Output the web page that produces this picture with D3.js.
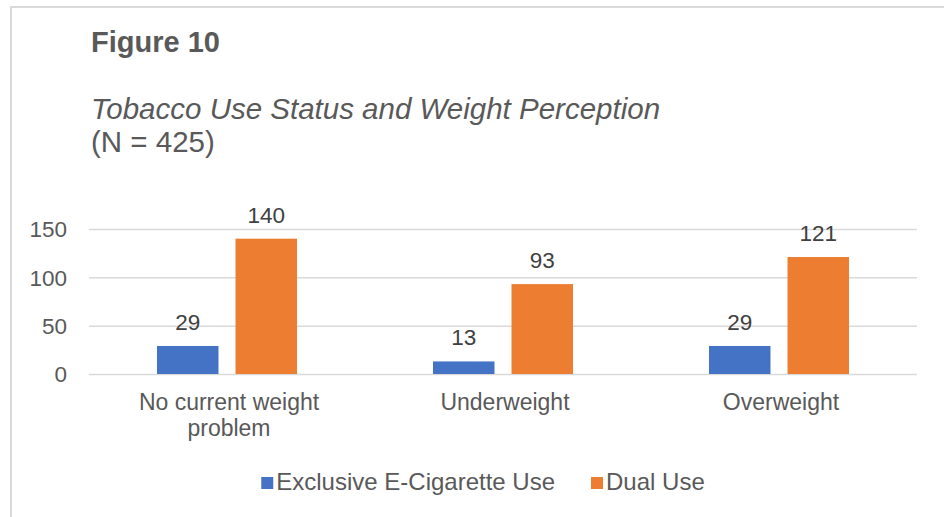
<!DOCTYPE html>
<html>
<head>
<meta charset="utf-8">
<script src="https://cdn.jsdelivr.net/npm/d3@7"></script>
<style>
  html, body { margin: 0; padding: 0; background: #ffffff; }
  svg { display: block; font-family: Arial, "Liberation Sans", sans-serif; }
</style>
</head>
<body>
<svg id="chart" width="944" height="517"></svg>
<script>
// Chart data
const categories = ["No current weight problem", "Underweight", "Overweight"];
const seriesNames = ["Exclusive E-Cigarette Use", "Dual Use"];
const exclusiveUse = [29, 13, 29];
const dualUse = [140, 93, 121];
const yTicks = [0, 50, 100, 150];
const seriesColors = ["#4472C4", "#ED7D31"];

const titleText = "Figure 10";
const subtitleText = "Tobacco Use Status and Weight Perception";
const noteText = "(N = 425)";

const seriesValues = [exclusiveUse, dualUse];
const rows = categories.map((c, i) => ({
  category: c,
  values: seriesNames.map((s, j) => ({ series: s, value: seriesValues[j][i], color: seriesColors[j] }))
}));

const svg = d3.select("#chart");
const W = 944, H = 517;

// Outer frame of the chart area
svg.append("rect")
  .attr("x", 11).attr("y", 7)
  .attr("width", W + 20).attr("height", H + 20)
  .attr("fill", "#ffffff")
  .attr("stroke", "#D9D9D9").attr("stroke-width", 2);

// Titles
svg.append("text")
  .attr("x", 91).attr("y", 52)
  .attr("font-size", 29).attr("font-weight", "bold")
  .attr("fill", "#595959")
  .text(titleText);

svg.append("text")
  .attr("x", 91).attr("y", 119)
  .attr("font-size", 29.5).attr("font-style", "italic")
  .attr("fill", "#595959")
  .text(subtitleText);

svg.append("text")
  .attr("x", 91).attr("y", 152)
  .attr("font-size", 29.5)
  .attr("fill", "#595959")
  .text(noteText);

// Scales
const plot = { left: 89, right: 917, top: 229, bottom: 374 };

const x0 = d3.scaleBand()
  .domain(categories)
  .range([plot.left, plot.right])
  .padding(0);

const groupPad = 68;
const x1 = d3.scaleBand()
  .domain(seriesNames)
  .range([groupPad, x0.bandwidth() - groupPad])
  .paddingInner(0.217)
  .paddingOuter(0);

const y = d3.scaleLinear()
  .domain([0, 150])
  .range([plot.bottom, plot.top]);

// Gridlines + y-axis labels
const yAxis = d3.axisLeft(y)
  .tickValues(yTicks)
  .tickSize(-(plot.right - plot.left))
  .tickPadding(22)
  .tickFormat(d3.format("d"));

const gy = svg.append("g")
  .attr("transform", `translate(${plot.left},0)`)
  .call(yAxis);
gy.select(".domain").remove();
gy.selectAll(".tick line")
  .attr("stroke", "#D9D9D9").attr("stroke-width", 1.5);
gy.selectAll(".tick text")
  .attr("font-size", 22.5)
  .attr("font-family", "Arial, 'Liberation Sans', sans-serif")
  .attr("fill", "#595959")
  .attr("dy", "0.35em");

// Bars
const groups = svg.append("g").selectAll("g")
  .data(rows)
  .join("g")
  .attr("transform", d => `translate(${x0(d.category)},0)`);

groups.selectAll("rect")
  .data(d => d.values)
  .join("rect")
  .attr("x", d => x1(d.series))
  .attr("width", x1.bandwidth())
  .attr("y", d => y(d.value))
  .attr("height", d => y(0) - y(d.value))
  .attr("fill", d => d.color);

// Value labels
groups.selectAll("text.value")
  .data(d => d.values)
  .join("text")
  .attr("class", "value")
  .attr("x", d => x1(d.series) + x1.bandwidth() / 2)
  .attr("y", d => y(d.value) - 16)
  .attr("text-anchor", "middle")
  .attr("font-size", 22.5)
  .attr("fill", "#404040")
  .text(d => d.value);

// Category labels, wrapped to a maximum width
const maxLabelWidth = 205;
const xLabels = svg.append("g").selectAll("text")
  .data(categories)
  .join("text")
  .attr("x", d => x0(d) + x0.bandwidth() / 2 + 2)
  .attr("y", 410)
  .attr("text-anchor", "middle")
  .attr("font-size", 23)
  .attr("fill", "#595959");

xLabels.each(function(d) {
  const el = d3.select(this);
  const words = d.split(" ");
  let line = [];
  let tspan = el.append("tspan").attr("x", el.attr("x")).attr("dy", 0);
  words.forEach(w => {
    line.push(w);
    tspan.text(line.join(" "));
    if (tspan.node().getComputedTextLength() > maxLabelWidth && line.length > 1) {
      line.pop();
      tspan.text(line.join(" "));
      line = [w];
      tspan = el.append("tspan").attr("x", el.attr("x")).attr("dy", 26).text(w);
    }
  });
});

// Legend
const legend = svg.append("g");
const items = legend.selectAll("g")
  .data(seriesNames)
  .join("g");
items.append("rect")
  .attr("width", 12).attr("height", 12)
  .attr("y", 477)
  .attr("fill", (d, i) => seriesColors[i]);
items.append("text")
  .attr("x", 15).attr("y", 490)
  .attr("font-size", 24)
  .attr("fill", "#595959")
  .text(d => d);

let offset = 0;
const itemGap = 36;
const widths = [];
items.each(function() {
  widths.push(this.querySelector("text").getComputedTextLength() + 15);
});
const totalW = d3.sum(widths) + itemGap * (widths.length - 1);
const start = 483 - totalW / 2;
items.attr("transform", (d, i) => {
  const tx = start + offset;
  offset += widths[i] + itemGap;
  return `translate(${tx},0)`;
});
</script>
</body>
</html>
